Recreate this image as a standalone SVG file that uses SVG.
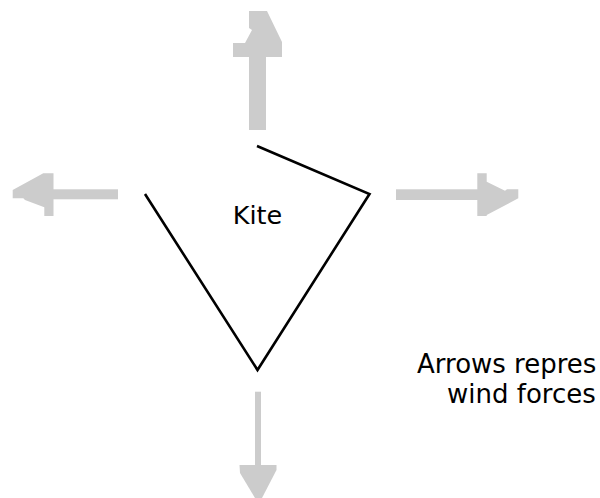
<svg xmlns="http://www.w3.org/2000/svg" width="600" height="498" viewBox="0 0 600 498">
  <style>
    .force { fill: #cccccc; stroke: none; }
    .frame { fill: none; stroke: #000000; stroke-width: 2.6; stroke-linejoin: miter; }
    .label { font-family: "DejaVu Sans", Verdana, sans-serif; fill: #000000; }
  </style>
  <rect width="600" height="498" fill="#ffffff"/>

  <!-- wind force arrows -->
  <g id="connectors">
    <g id="arrow-up">
      <rect class="force" x="249" y="56" width="17" height="74"/>
      <polygon class="force" points="249,11 267,11 282,42 282,57 233,57 233,43 245,43 252,30 249,28"/>
    </g>
    <g id="arrow-left">
      <rect class="force" x="53" y="189.3" width="65" height="10"/>
      <polygon class="force" points="43.3,173.3 53.5,173.3 53.5,216 44.3,216 44.3,207.3 25,200 23.3,198.3 12.7,198.3 12.7,190"/>
    </g>
    <g id="arrow-right">
      <rect class="force" x="396" y="189.3" width="82" height="10.7"/>
      <polygon class="force" points="477.3,173.3 486.7,173.3 486.7,181.7 505,190.7 507,189.3 518.3,189.3 518.3,198.3 486.7,215 486.7,216 477.3,216"/>
    </g>
    <g id="arrow-down">
      <rect class="force" x="255" y="391.7" width="6" height="74"/>
      <polygon class="force" points="239.5,465 276.5,465 276.5,470 262,498 255,498 240,473"/>
    </g>
  </g>

  <!-- kite outline -->
  <g id="kite">
    <polyline class="frame" points="145,194 257.5,370 369.5,194 257,146"/>
    <text class="label" x="257.5" y="224" font-size="25.5" text-anchor="middle">Kite</text>
  </g>

  <!-- legend note -->
  <g id="note">
    <text class="label" x="417" y="373" font-size="26">Arrows repres</text>
    <text class="label" x="447" y="403" font-size="26">wind forces</text>
  </g>
</svg>
